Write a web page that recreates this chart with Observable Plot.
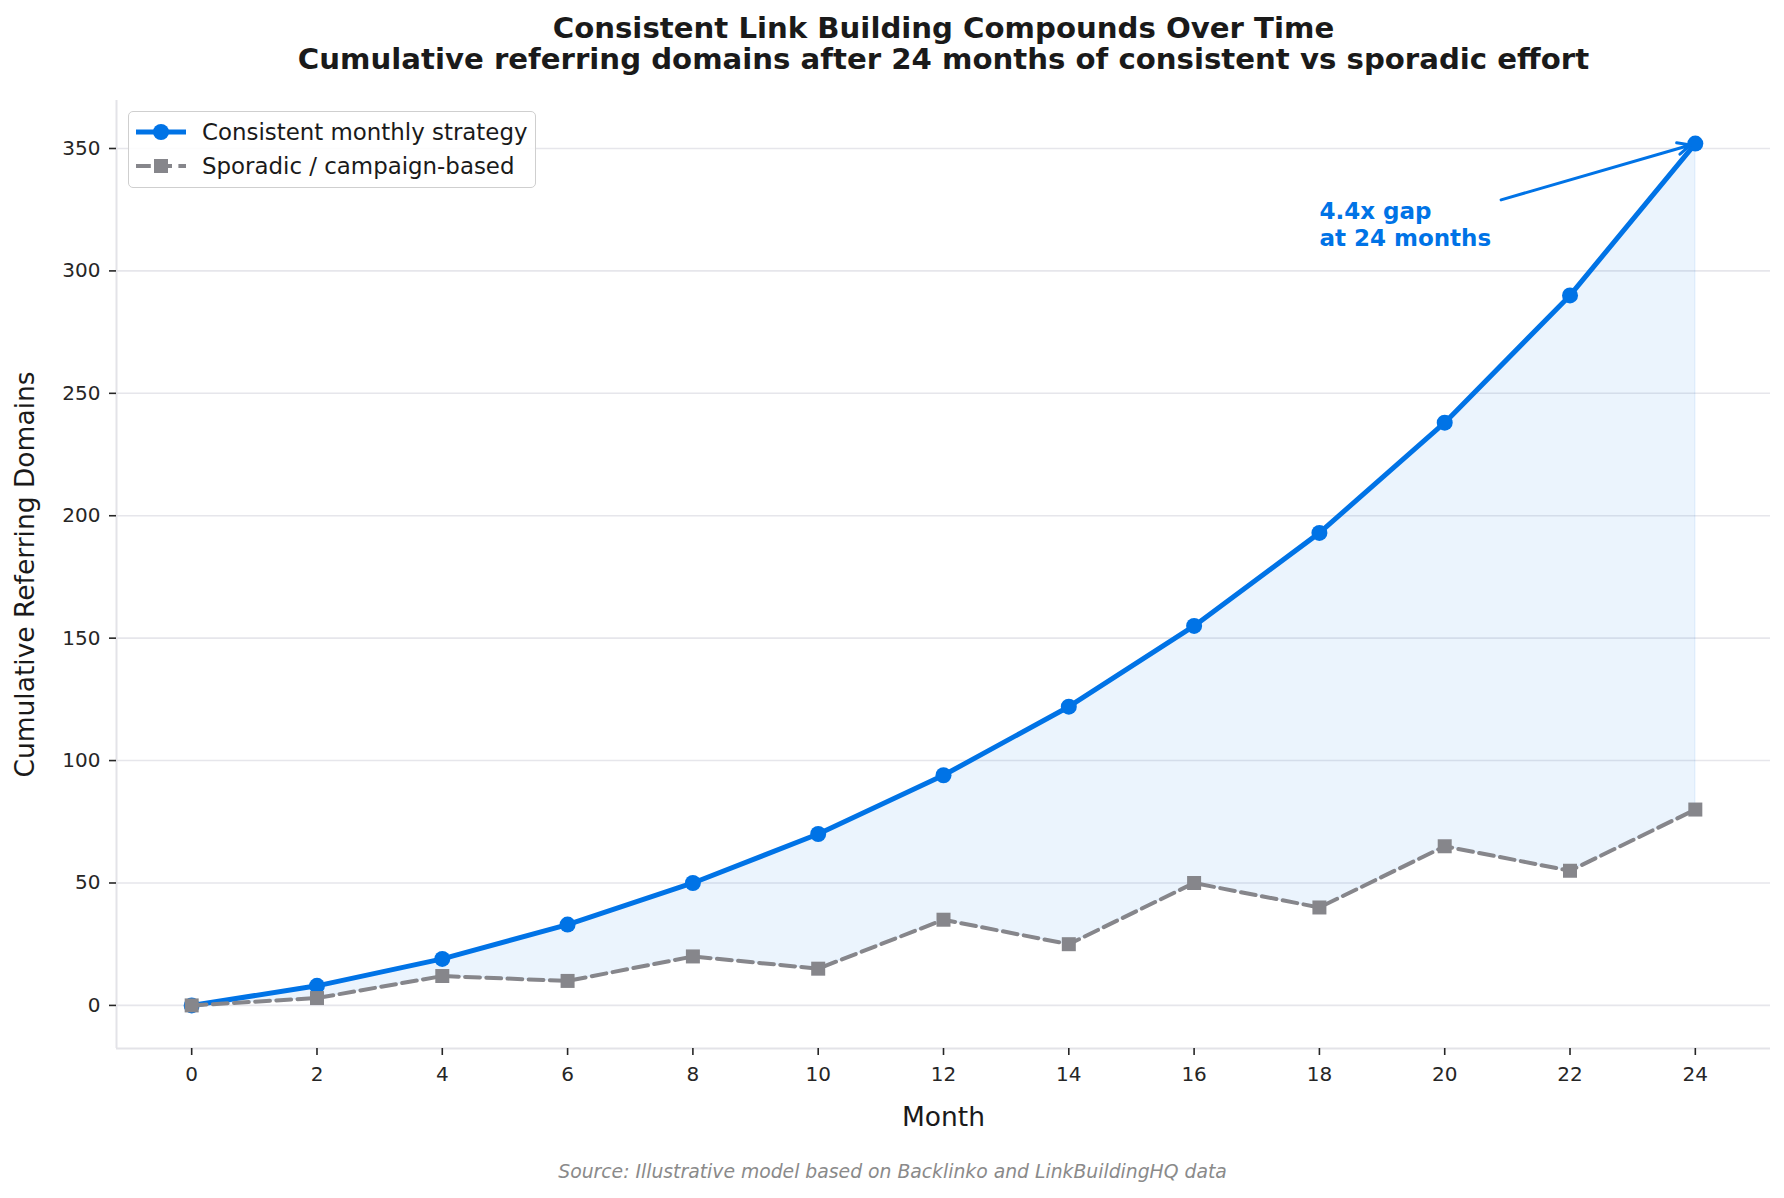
<!DOCTYPE html>
<html>
<head>
<meta charset="utf-8">
<script src="https://cdn.jsdelivr.net/npm/d3@7"></script>
<script src="https://cdn.jsdelivr.net/npm/@observablehq/plot@0.6"></script>
<style>
  html, body { margin: 0; padding: 0; background: #fff; }
  #wrap { position: relative; width: 1784px; height: 1198px; font-family: "DejaVu Sans", sans-serif; }
  #legend {
    position: absolute; left: 128px; top: 111px; width: 406px; height: 75px;
    border: 1.5px solid #cfcfcf; border-radius: 5px; background: rgba(255,255,255,0.85);
    box-sizing: content-box;
  }
  .row { position: absolute; left: 0; height: 34px; display: flex; align-items: center; }
  .row svg { margin-left: 6px; }
  .row span { margin-left: 15px; font-size: 22.9px; color: #1a1a1a; white-space: nowrap; }
</style>
</head>
<body>
<div id="wrap">
  <div id="chart"></div>
  <div id="legend"></div>
</div>
<script>
// ---- data ----
const months = [0, 2, 4, 6, 8, 10, 12, 14, 16, 18, 20, 22, 24];
const consistent = [0, 8, 19, 33, 50, 70, 94, 122, 155, 193, 238, 290, 352];
const sporadic = [0, 3, 12, 10, 20, 15, 35, 25, 50, 40, 65, 55, 80];
const xTicks = [0, 2, 4, 6, 8, 10, 12, 14, 16, 18, 20, 22, 24];
const yTicks = [0, 50, 100, 150, 200, 250, 300, 350];
const seriesNames = ["Consistent monthly strategy", "Sporadic / campaign-based"];
const titleLines = ["Consistent Link Building Compounds Over Time",
  "Cumulative referring domains after 24 months of consistent vs sporadic effort"];
const xLabel = "Month";
const yLabel = "Cumulative Referring Domains";
const sourceText = "Source: Illustrative model based on Backlinko and LinkBuildingHQ data";
const annotationText = "4.4x gap\nat 24 months";
const annotationPoint = [{x: 18, y: 310}];
const arrowSpec = [{x1: 20.9, y1: 329, x2: 24, y2: 352}];

const BLUE = "#0073E6";
const GRAY = "#86868B";
const xDomain = [-1.2, 25.2];
const yDomain = [-17.6, 369.6];

const data = months.map((m, i) => ({month: m, consistent: consistent[i], sporadic: sporadic[i]}));

const chart = Plot.plot({
  width: 1784,
  height: 1198,
  marginLeft: 116,
  marginRight: 14,
  marginTop: 100,
  marginBottom: 150,
  x: {domain: xDomain},
  y: {domain: yDomain},
  style: {fontFamily: "DejaVu Sans, sans-serif", background: "white", overflow: "visible"},
  marks: [
    Plot.gridY(yTicks, {stroke: "#E6E6EB", strokeOpacity: 1, strokeWidth: 1.6}),
    Plot.ruleX([xDomain[0]], {stroke: "#E3E3E8", strokeWidth: 2}),
    Plot.ruleY([yDomain[0]], {stroke: "#E3E3E8", strokeWidth: 2}),
    Plot.axisX(xTicks, {tickSize: 7, tickPadding: 11, fontSize: 20, strokeWidth: 1.6, color: "#262626", label: null}),
    Plot.axisY(yTicks, {tickSize: 7, tickPadding: 9, fontSize: 20, strokeWidth: 1.6, color: "#262626", label: null}),
    Plot.areaY(data, {x: "month", y1: "sporadic", y2: "consistent", fill: BLUE, fillOpacity: 0.08,
      stroke: BLUE, strokeOpacity: 0.08, strokeWidth: 1.5}),
    Plot.line(data, {x: "month", y: "consistent", stroke: BLUE, strokeWidth: 5}),
    Plot.dot(data, {x: "month", y: "consistent", r: 8, fill: BLUE, stroke: null}),
    Plot.line(data, {x: "month", y: "sporadic", stroke: GRAY, strokeWidth: 4, strokeDasharray: "14.8,6.4"}),
    Plot.dot(data, {x: "month", y: "sporadic", symbol: "square", r: 7.9, fill: GRAY, stroke: null}),
    Plot.arrow(arrowSpec, {x1: "x1", y1: "y1", x2: "x2", y2: "y2", stroke: BLUE, strokeWidth: 3,
      headLength: 7, headAngle: 50, bend: 0, insetEnd: 5}),
    Plot.text(annotationPoint, {x: "x", y: "y", text: () => annotationText, textAnchor: "start", lineAnchor: "bottom",
      lineHeight: 1.2, fontSize: 23, fontWeight: "bold", fill: BLUE}),
    Plot.text([titleLines[0]], {frameAnchor: "top", dy: -63, lineAnchor: "bottom", fontSize: 29.2, fontWeight: "bold", fill: "#1a1a1a"}),
    Plot.text([titleLines[1]], {frameAnchor: "top", dy: -32, lineAnchor: "bottom", fontSize: 29.2, fontWeight: "bold", fill: "#1a1a1a"}),
    Plot.text([xLabel], {frameAnchor: "bottom", dy: 77, lineAnchor: "bottom", fontSize: 26.5, fill: "#1a1a1a"}),
    Plot.text([yLabel], {frameAnchor: "left", dx: -83, rotate: -90, textAnchor: "middle", lineAnchor: "bottom",
      fontSize: 26.5, fill: "#1a1a1a"}),
    Plot.text([sourceText], {frameAnchor: "bottom", dx: -51, dy: 129, lineAnchor: "bottom", fontSize: 18.8,
      fontStyle: "italic", fill: "#8a8a8a"})
  ]
});
document.getElementById("chart").appendChild(chart);

// ---- legend ----
const legend = document.getElementById("legend");
const handles = [
  `<svg width="52" height="34"><line x1="1" y1="17" x2="51" y2="17" stroke="${BLUE}" stroke-width="5"/><circle cx="26" cy="17" r="8" fill="${BLUE}"/></svg>`,
  `<svg width="52" height="34"><line x1="1" y1="17" x2="51" y2="17" stroke="${GRAY}" stroke-width="4" stroke-dasharray="14.8,6.4"/><rect x="19" y="10" width="14" height="14" fill="${GRAY}"/></svg>`
];
seriesNames.forEach((name, i) => {
  const row = document.createElement("div");
  row.className = "row";
  row.style.top = (3 + i * 34) + "px";
  row.innerHTML = handles[i] + `<span>${name}</span>`;
  legend.appendChild(row);
});
</script>
</body>
</html>
